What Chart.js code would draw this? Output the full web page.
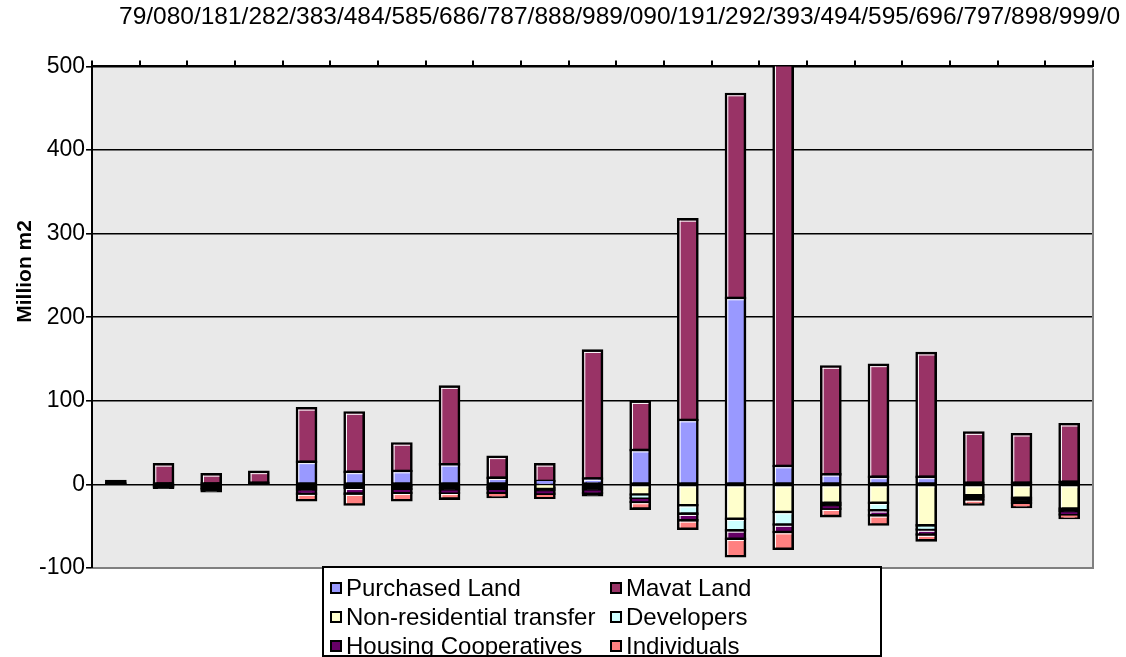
<!DOCTYPE html>
<html>
<head>
<meta charset="utf-8">
<script src="https://cdn.jsdelivr.net/npm/chart.js@4"></script>
<style>
  body { margin: 0; background: #fff; }
  #wrap { position: relative; width: 1126px; height: 657px; }
  #leyenda {
    position: absolute; left: 322px; top: 566px; width: 560px; height: 91px;
    border: 2px solid #000; background: #fff; box-sizing: border-box;
    display: grid; grid-template-columns: 280px 276px; grid-auto-rows: 29px;
    padding: 5px 0 0 6px;
    font-family: "Liberation Sans", Arial, sans-serif; font-size: 24px; color: #000;
  }
  #leyenda .item { display: flex; align-items: center; white-space: nowrap; }
  #leyenda .caja { width: 8px; height: 8px; border: 2px solid #000; margin-right: 4px; flex: none; }
</style>
</head>
<body>
<div id="wrap">
  <canvas id="landChart" width="1126" height="657"></canvas>
  <div id="leyenda"></div>
</div>
<script>
const categories = ['79/0', '80/1', '81/2', '82/3', '83/4', '84/5', '85/6', '86/7', '87/8', '88/9', '89/0',
  '90/1', '91/2', '92/3', '93/4', '94/5', '95/6', '96/7', '97/8', '98/9', '99/0'];

// million m2, positive side
const purchasedLand = [1, 1, 1, 2, 27, 15, 16, 24, 8, 4, 7, 41, 77, 223, 22, 12, 9, 9, 2, 2, 3];
const mavatLand = [3, 23, 11, 13, 64, 71, 33, 93, 25, 20, 153, 58, 240, 244, 498, 129, 134, 148, 60, 58, 69];

// million m2, negative side
const nonResidential = [0, -1, -2, 0, -3, -2, -2, -3, -3, -4, -3, -12, -25, -41, -33, -22, -22, -49, -13, -16, -29];
const developers = [0, -1, -2, 0, -3, -2, -3, -3, -2, -3, -3, -4, -10, -14, -15, -3, -9, -5, -2, -3, -3];
const housingCoops = [0, -1, -2, 0, -5, -7, -5, -4, -5, -4, -4, -5, -8, -10, -9, -4, -6, -6, -3, -3, -4];
const individuals = [0, -1, -2, 0, -8, -13, -9, -7, -5, -5, -3, -8, -10, -21, -20, -9, -11, -7, -6, -5, -4];

const yTicks = [-100, 0, 100, 200, 300, 400, 500];
const yTitle = 'Million m2';

const fuente = '"Liberation Sans", Arial, sans-serif';
const borde = 2.6;

const serie = (label, data, color) => ({
  label: label,
  data: data,
  // segments too thin to show their fill come out solid black
  backgroundColor: ctx => Math.abs(ctx.raw) <= 3 ? '#000' : color,
  legendColor: color,
  borderColor: '#000',
  borderWidth: borde,
  borderSkipped: false,
  // neighbouring segments share one edge line
  inflateAmount: ctx => ctx.raw === 0 ? 0 : borde / 2,
  barPercentage: 0.4,
  categoryPercentage: 1,
  clip: 0
});

// grey plot background, white bevel on the segments, grey right/bottom frame, axis title
const fondoPlot = {
  id: 'fondoPlot',
  beforeDraw(chart) {
    const a = chart.chartArea;
    const c = chart.ctx;
    c.save();
    c.fillStyle = '#e9e9e9';
    c.fillRect(a.left, a.top, a.right - a.left, a.bottom - a.top);
    c.restore();
  },
  afterDatasetsDraw(chart) {
    const a = chart.chartArea;
    const c = chart.ctx;
    c.save();
    c.beginPath();
    c.rect(a.left, a.top, a.right - a.left, a.bottom - a.top);
    c.clip();
    c.fillStyle = '#fff';
    chart.data.datasets.forEach((ds, i) => {
      chart.getDatasetMeta(i).data.forEach((bar, j) => {
        if (Math.abs(ds.data[j]) <= 3) return;
        const top = Math.min(bar.y, bar.base) + borde / 2;
        const bottom = Math.max(bar.y, bar.base) - borde / 2;
        const left = bar.x - bar.width / 2 + borde / 2;
        const right = bar.x + bar.width / 2 - borde / 2;
        if (bottom - top < 2) return;
        c.fillRect(left, top, right - left, 1);
        c.fillRect(left, top, 1, bottom - top);
      });
    });
    c.restore();

    c.save();
    c.strokeStyle = '#808080';
    c.lineWidth = 2;
    c.beginPath();
    c.moveTo(a.left + 1, a.bottom);
    c.lineTo(a.right, a.bottom);
    c.lineTo(a.right, a.top + 2);
    c.stroke();

    c.translate(25, a.top + 205);
    c.rotate(-Math.PI / 2);
    c.fillStyle = '#000';
    c.font = 'bold 21px ' + fuente;
    c.textAlign = 'center';
    c.textBaseline = 'middle';
    c.fillText(yTitle, 0, 0);
    c.restore();
  }
};

const ctx = document.getElementById('landChart').getContext('2d');
const chart = new Chart(ctx, {
  type: 'bar',
  data: {
    labels: categories,
    datasets: [
      serie('Purchased Land', purchasedLand, '#9999ff'),
      serie('Mavat Land', mavatLand, '#993366'),
      serie('Non-residential transfer', nonResidential, '#ffffcc'),
      serie('Developers', developers, '#ccffff'),
      serie('Housing Cooperatives', housingCoops, '#660066'),
      serie('Individuals', individuals, '#ff8080')
    ]
  },
  options: {
    responsive: false,
    animation: false,
    devicePixelRatio: 1,
    layout: { padding: { left: 38, top: -25, right: 33, bottom: 89 } },
    plugins: {
      legend: { display: false },
      tooltip: { enabled: false }
    },
    scales: {
      x: {
        position: 'top',
        stacked: true,
        grid: { drawOnChartArea: false, color: '#000', lineWidth: 2, tickLength: 6 },
        border: { color: '#000', width: 2 },
        ticks: {
          color: '#000',
          font: { family: fuente, size: 24.5 },
          maxRotation: 0,
          autoSkip: false,
          labelOffset: 27,
          padding: 28
        }
      },
      y: {
        stacked: true,
        min: -100,
        max: 500,
        afterBuildTicks: scale => { scale.ticks = yTicks.map(v => ({ value: v })); },
        grid: { color: '#000', lineWidth: 1.6, tickLength: 6 },
        border: { color: '#000', width: 2 },
        ticks: {
          color: '#000',
          font: { family: fuente, size: 23 },
          padding: 1
        }
      }
    }
  },
  plugins: [fondoPlot]
});

// legend box, two columns, built from the datasets
const leyenda = document.getElementById('leyenda');
chart.data.datasets.forEach(ds => {
  const div = document.createElement('div');
  div.className = 'item';
  div.innerHTML = `<span class="caja" style="background:${ds.legendColor}"></span><span>${ds.label}</span>`;
  leyenda.appendChild(div);
});
</script>
</body>
</html>
